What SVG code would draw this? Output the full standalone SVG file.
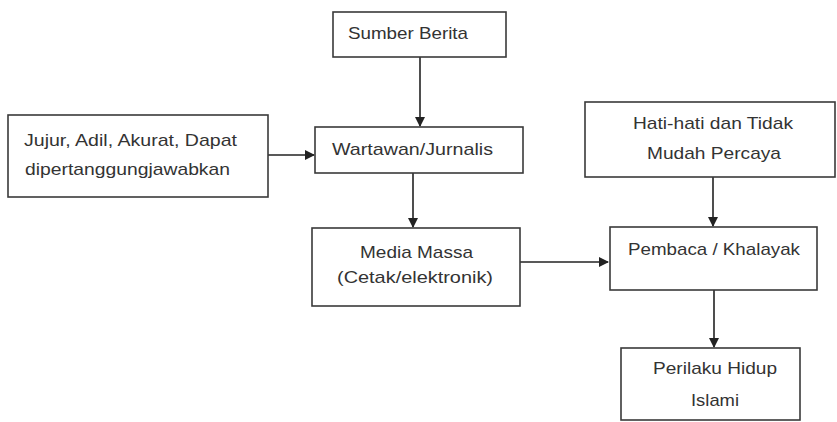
<svg xmlns="http://www.w3.org/2000/svg" width="837" height="422" viewBox="0 0 837 422">
<style>
.box{fill:#fff;stroke:#3a3a3a;stroke-width:1.6}
.t{font-family:"Liberation Sans",Arial,sans-serif;font-size:17px;fill:#333}
.c{stroke:#222;stroke-width:1.6;fill:none;marker-end:url(#ah)}
</style>
<defs>
<marker id="ah" markerWidth="10" markerHeight="10" refX="9" refY="5" orient="auto" markerUnits="userSpaceOnUse">
<path d="M0,0 L10,5 L0,10 Z" fill="#222"/>
</marker>
</defs>
<rect width="837" height="422" fill="#fff"/>
<g id="connectors">
<line class="c" x1="420" y1="57" x2="420" y2="126"/>
<line class="c" x1="268" y1="155" x2="314" y2="155"/>
<line class="c" x1="413" y1="173" x2="413" y2="227"/>
<line class="c" x1="520" y1="262" x2="608" y2="262"/>
<line class="c" x1="713" y1="177" x2="713" y2="226"/>
<line class="c" x1="714" y1="290" x2="714" y2="347"/>
</g>
<g id="sumber">
<rect class="box" x="333" y="12" width="173" height="45"/>
<text class="t" x="348" y="39" textLength="120" lengthAdjust="spacingAndGlyphs">Sumber Berita</text>
</g>
<g id="jujur">
<rect class="box" x="8" y="115" width="260" height="82"/>
<text class="t" x="24" y="146" textLength="213" lengthAdjust="spacingAndGlyphs">Jujur, Adil, Akurat, Dapat</text>
<text class="t" x="25" y="175" textLength="205" lengthAdjust="spacingAndGlyphs">dipertanggungjawabkan</text>
</g>
<g id="wartawan">
<rect class="box" x="315" y="127" width="208" height="46"/>
<text class="t" x="332" y="155" textLength="161" lengthAdjust="spacingAndGlyphs">Wartawan/Jurnalis</text>
</g>
<g id="media">
<rect class="box" x="312" y="228" width="208" height="78"/>
<text class="t" x="360" y="258" textLength="113" lengthAdjust="spacingAndGlyphs">Media Massa</text>
<text class="t" x="337" y="283" textLength="156" lengthAdjust="spacingAndGlyphs">(Cetak/elektronik)</text>
</g>
<g id="hati">
<rect class="box" x="585" y="102" width="250" height="75"/>
<text class="t" x="633" y="129" textLength="160" lengthAdjust="spacingAndGlyphs">Hati-hati dan Tidak</text>
<text class="t" x="647" y="159" textLength="134" lengthAdjust="spacingAndGlyphs">Mudah Percaya</text>
</g>
<g id="pembaca">
<rect class="box" x="610" y="227" width="207" height="63"/>
<text class="t" x="628" y="255" textLength="172" lengthAdjust="spacingAndGlyphs">Pembaca / Khalayak</text>
</g>
<g id="perilaku">
<rect class="box" x="621" y="348" width="179" height="72"/>
<text class="t" x="653" y="374" textLength="124" lengthAdjust="spacingAndGlyphs">Perilaku Hidup</text>
<text class="t" x="691" y="406" textLength="48" lengthAdjust="spacingAndGlyphs">Islami</text>
</g>
</svg>
